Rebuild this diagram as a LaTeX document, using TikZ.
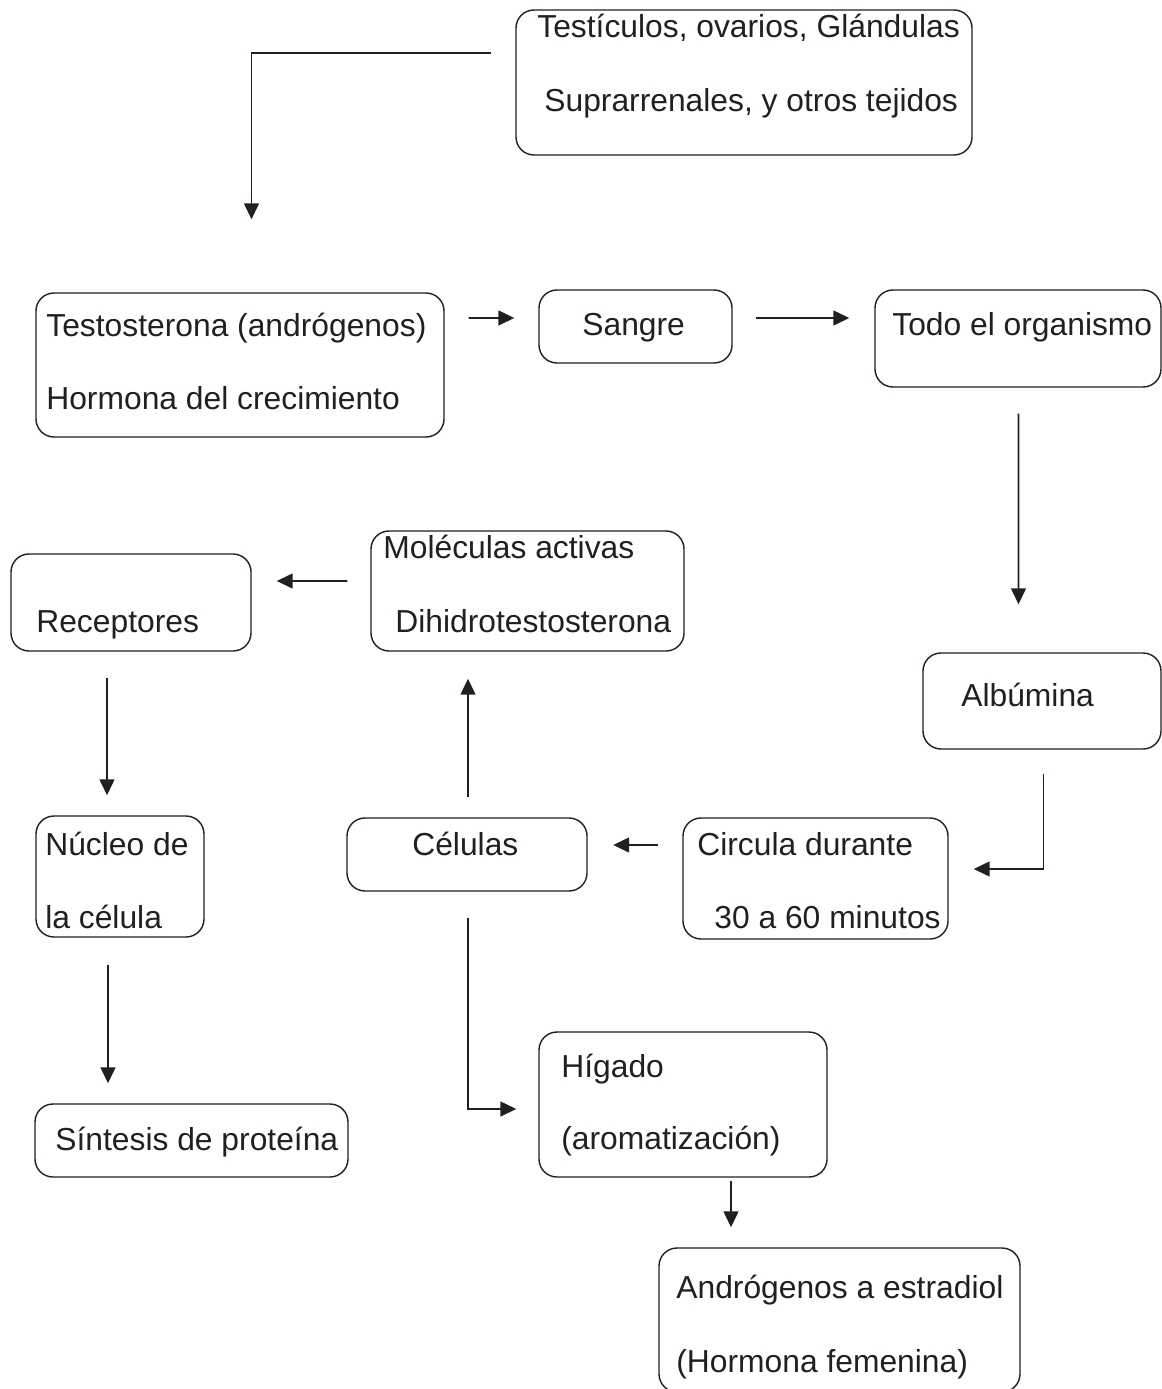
\documentclass[tikz,border=0pt]{standalone}
\usepackage{fontspec}
\setmainfont{Liberation Sans}
\usetikzlibrary{positioning,arrows.meta,calc,fit}
\definecolor{ink}{HTML}{231F20}
\tikzset{
  box/.style={draw=ink,rounded corners=0.36cm,inner sep=0pt,line width=0.8pt},
  txt/.style={anchor=base west,inner sep=0pt,text=ink,font=\fontsize{18.1}{21}\selectfont},
  arr/.style={-{Triangle[length=9pt,width=8.4pt]},draw=ink,line width=0.9pt}
}

\begin{document}
\begin{tikzpicture}[x=0.02cm,y=-0.02cm]
\useasboundingbox (0,0) rectangle (1162,1389);
% boxes
\node[box, fit={(516,10) (972,155)}] (fuentes) {};
\node[box, fit={(36,293) (444,437)}] (testo) {};
\node[box, fit={(539,290) (732,363)}] (sangre) {};
\node[box, fit={(875,290) (1161,387)}] (organismo) {};
\node[box, fit={(923,653) (1161,749)}] (albumina) {};
\node[box, fit={(683,818) (948,939)}] (circula) {};
\node[box, fit={(347,818) (587,891)}] (celulas) {};
\node[box, fit={(371,531) (684,651)}] (moleculas) {};
\node[box, fit={(11,554) (251,651)}] (receptores) {};
\node[box, fit={(36,816) (204,937)}] (nucleo) {};
\node[box, fit={(35,1104) (348,1177)}] (sintesis) {};
\node[box, fit={(539,1032) (827,1177)}] (higado) {};
\node[box, fit={(659,1248) (1020,1392)}] (estradiol) {};
% texts
\node[txt] (fuentes1) at (537,38) {Testículos, ovarios, Glándulas};
\node[txt] (fuentes2) at (544,112) {Suprarrenales, y otros tejidos};
\node[txt] (testo1) at (46,336) {Testosterona (andrógenos)};
\node[txt] (testo2) at (46,409) {Hormona del crecimiento};
\node[txt] (sangre1) at (582,335) {Sangre};
\node[txt] (organismo1) at (892,335) {Todo el organismo};
\node[txt] (albumina1) at (961,706) {Albúmina};
\node[txt] (circula1) at (697,855) {Circula durante};
\node[txt] (circula2) at (714,928) {30 a 60 minutos};
\node[txt] (celulas1) at (412,855) {Células};
\node[txt] (moleculas1) at (383,558) {Moléculas activas};
\node[txt] (moleculas2) at (395,632) {Dihidrotestosterona};
\node[txt] (receptores1) at (36,632) {Receptores};
\node[txt] (nucleo1) at (45,855) {Núcleo de};
\node[txt] (nucleo2) at (45,928) {la célula};
\node[txt] (sintesis1) at (55,1150) {Síntesis de proteína};
\node[txt] (higado1) at (561,1077) {Hígado};
\node[txt] (higado2) at (561,1149) {(aromatización)};
\node[txt] (estradiol1) at (676,1298) {Andrógenos a estradiol};
\node[txt] (estradiol2) at (676,1372) {(Hormona femenina)};
% connectors
\draw[arr, shorten >=1.46cm] ($(fuentes.west)+(-24,-29.5)$) -| ($(testo.north)+(11.5,0)$);
\draw[arr] ($(testo.east)+(24,-47)$) -- ($(sangre.west)+(-24,-8.5)$);
\draw[arr] ($(sangre.east)+(23,-8.5)$) -- ($(organismo.west)+(-25,-20.5)$);
\draw[arr] ($(organismo.south)+(0.5,26)$) -- ($(albumina.north)+(-23.5,-48)$);
\draw[arr] ($(albumina.south)+(1.5,24)$) |- ($(circula.east)+(25,-9.5)$);
\draw[arr] ($(circula.west)+(-24,-33.5)$) -- ($(celulas.east)+(25.5,-9.5)$);
\draw[arr] ($(celulas.north)+(1,-20)$) -- ($(moleculas.south)+(-59.5,27)$);
\draw[arr] ($(moleculas.west)+(-23,-10)$) -- ($(receptores.east)+(25,-21.5)$);
\draw[arr] ($(receptores.south)+(-24,26)$) -- ($(nucleo.north)+(-13,-20)$);
\draw[arr] ($(nucleo.south)+(-12,27)$) -- ($(sintesis.north)+(-83.5,-20)$);
\draw[arr] ($(celulas.south)+(1,26)$) |- ($(higado.west)+(-22,4.5)$);
\draw[arr] ($(higado.south)+(48,3)$) -- ($(estradiol.north)+(-108.5,-20)$);
\end{tikzpicture}
\end{document}
